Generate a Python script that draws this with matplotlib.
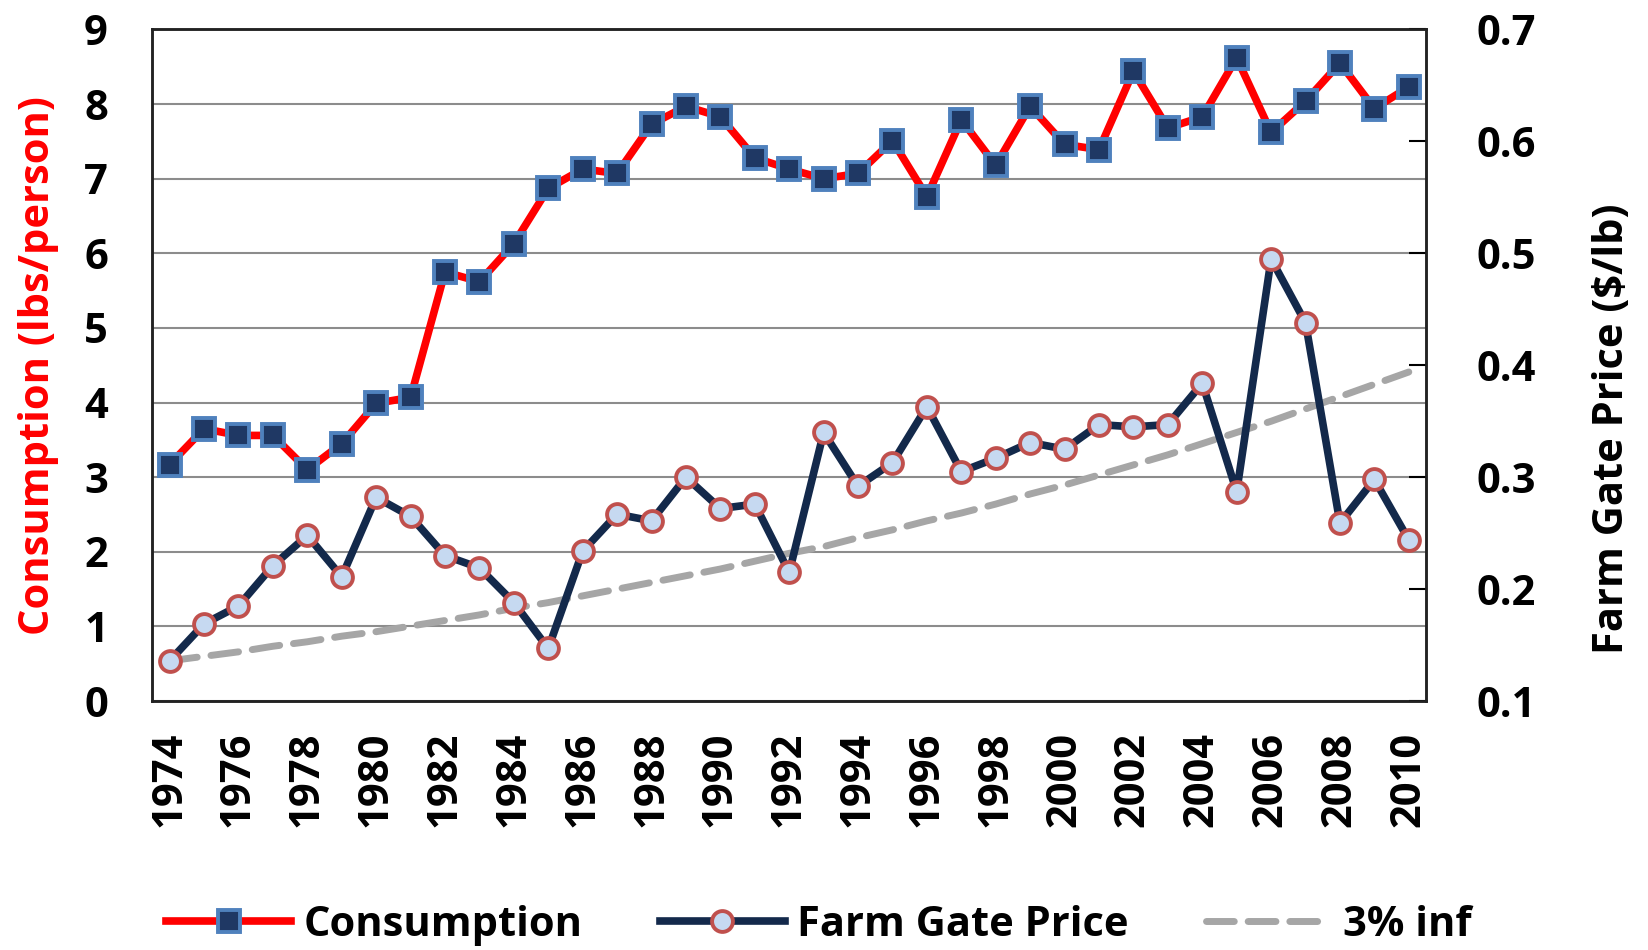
import matplotlib
matplotlib.use("Agg")
import matplotlib.pyplot as plt
from matplotlib.ticker import MultipleLocator, FixedLocator

years = list(range(1974, 2011))
consumption = [3.17, 3.65, 3.56, 3.56, 3.10, 3.45, 3.99, 4.07, 5.75, 5.62,
               6.13, 6.87, 7.13, 7.07, 7.73, 7.97, 7.83, 7.28, 7.13, 7.00,
               7.07, 7.51, 6.76, 7.79, 7.18, 7.97, 7.46, 7.39, 8.44, 7.68,
               7.83, 8.62, 7.62, 8.04, 8.55, 7.94, 8.23]
farm_gate_price = [0.136, 0.169, 0.185, 0.221, 0.248, 0.211, 0.282, 0.265, 0.230, 0.219,
                   0.188, 0.147, 0.234, 0.267, 0.261, 0.300, 0.272, 0.276, 0.215, 0.340,
                   0.292, 0.313, 0.363, 0.305, 0.317, 0.331, 0.325, 0.347, 0.345, 0.347,
                   0.384, 0.287, 0.495, 0.438, 0.259, 0.298, 0.244]
inflation_3pct = [0.136, 0.140, 0.144, 0.149, 0.153, 0.158, 0.162, 0.167, 0.172, 0.177,
                  0.183, 0.188, 0.194, 0.200, 0.206, 0.212, 0.218, 0.225, 0.232, 0.238,
                  0.246, 0.253, 0.261, 0.268, 0.276, 0.285, 0.293, 0.302, 0.311, 0.320,
                  0.330, 0.340, 0.350, 0.361, 0.372, 0.383, 0.394]
year_labels = [str(y) if (y - 1974) % 2 == 0 else "" for y in years]
right_ticks = [0.1, 0.2, 0.3, 0.4, 0.5, 0.6, 0.7]
right_labels = ["0.1", "0.2", "0.3", "0.4", "0.5", "0.6", "0.7"]

FONT = "Open Sans"
FS = 30
plt.rcParams["font.family"] = [FONT, "DejaVu Sans"]
plt.rcParams["font.weight"] = "bold"

fig = plt.figure(figsize=(16.48, 9.5), dpi=100)
ax = fig.add_axes([0.0925, 0.262, 0.7728, 0.707])
ax2 = ax.twinx()

x = list(range(len(years)))

l1, = ax.plot(x, consumption, color="#FF0000", lw=5.5, marker="s", ms=16,
              mfc="#1F3864", mec="#4F81BD", mew=2.8, label="Consumption", zorder=3,
              solid_joinstyle="round")
l3, = ax2.plot(x, inflation_3pct, color="#A6A6A6", lw=5, ls=(0, (4, 2)),
               dash_capstyle="round", label="3% inf", zorder=2)
l2, = ax2.plot(x, farm_gate_price, color="#13294B", lw=5.5, marker="o", ms=15,
               mfc="#C6D9F1", mec="#C0504D", mew=2.8, label="Farm Gate Price", zorder=3,
               solid_joinstyle="round")

ax.set_xlim(-0.5, len(years) - 0.5)
ax.set_ylim(0, 9)
ax.yaxis.set_major_locator(MultipleLocator(1))
ax.grid(axis="y", color="#8C8C8C", lw=1.5)
ax.set_axisbelow(True)
ax.set_xticks(x)
ax.set_xticklabels(year_labels, rotation=90, fontsize=FS, fontweight="bold")
ax.tick_params(axis="x", length=0, pad=22)
ax.tick_params(axis="y", length=0, pad=32, labelsize=FS)
for lab in ax.get_yticklabels():
    lab.set_fontweight("bold")

ax2.set_ylim(0.1, 0.7)
ax2.yaxis.set_major_locator(FixedLocator(right_ticks))
ax2.set_yticklabels(right_labels, fontsize=FS, fontweight="bold")
ax2.tick_params(axis="y", direction="in", length=12, width=1.5, pad=36)

for a in (ax, ax2):
    for sp in a.spines.values():
        sp.set_linewidth(1.8)
        sp.set_color("#222222")

ax.set_ylabel("Consumption (lbs/person)", color="#FF0000", fontsize=FS,
              fontweight="bold")
ax.yaxis.set_label_coords(-0.0735, 0.5)
ax2.set_ylabel("Farm Gate Price ($/lb)", color="black", fontsize=FS,
               fontweight="bold", rotation=90)
ax2.yaxis.set_label_coords(1.13, 0.405)

fig.legend(handles=[l1, l2, l3], loc="center", bbox_to_anchor=(0.497, 0.026),
           ncol=3, frameon=False, handlelength=3.0,
           handletextpad=0.3, columnspacing=1.85, prop={"weight": "bold", "size": FS})

fig.savefig("out.png", dpi=100)
